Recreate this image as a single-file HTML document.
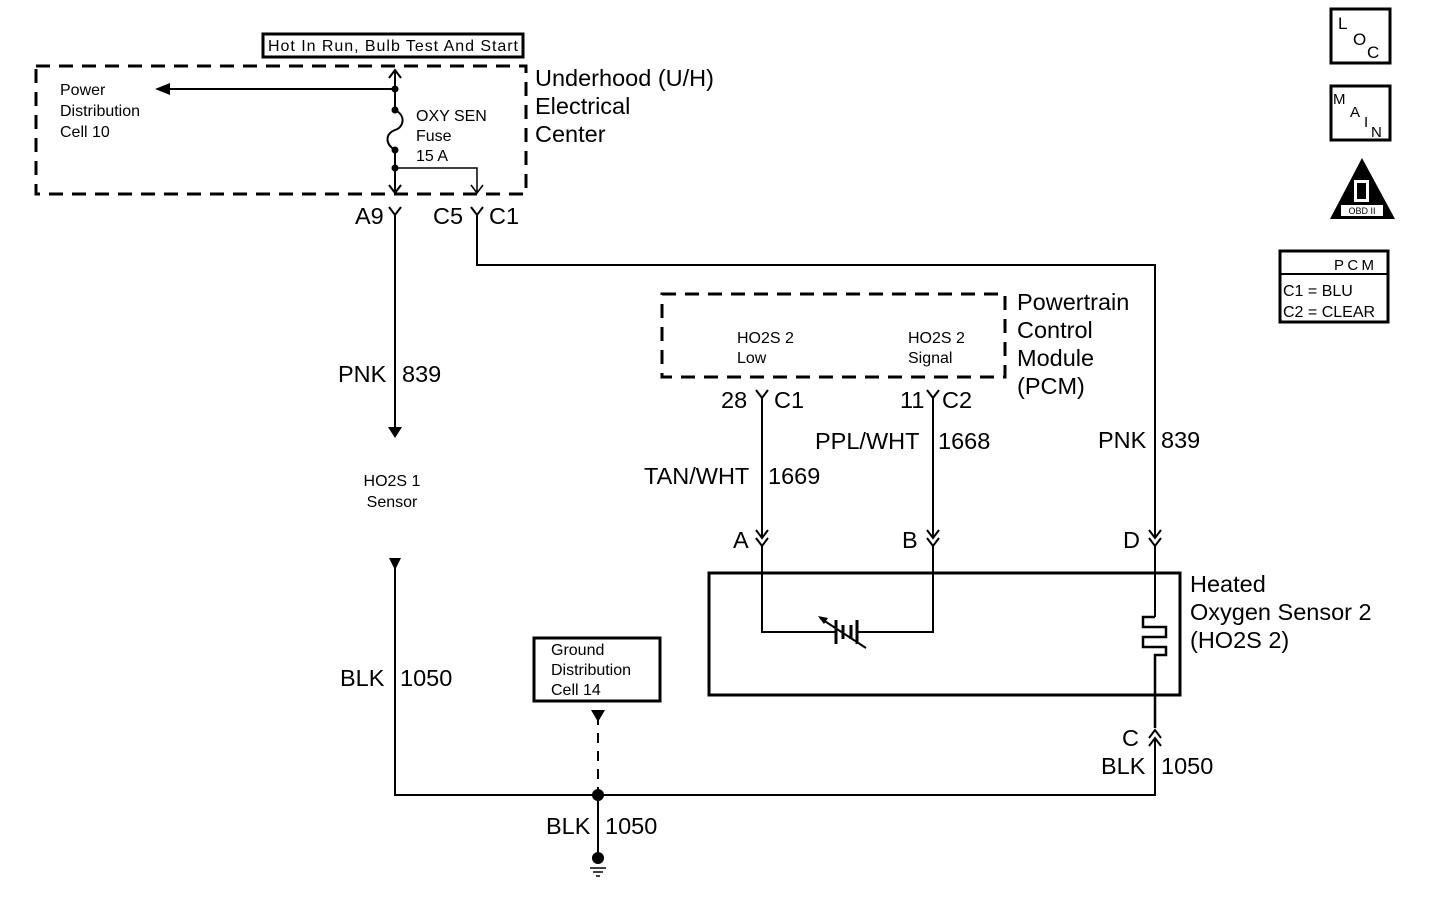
<!DOCTYPE html>
<html><head><style>body{margin:0;background:#fff}svg{display:block}text{font-family:"Liberation Sans",sans-serif;fill:#000}</style></head><body>
<svg width="1440" height="898" viewBox="0 0 1440 898" xmlns="http://www.w3.org/2000/svg">
<g fill="none" stroke="#000" stroke-width="2">
<rect x="36" y="66" width="490" height="128" stroke-dasharray="14,9" stroke-width="3"/>
<rect x="263" y="34" width="260" height="23" stroke-width="3"/>
<rect x="662" y="294" width="343" height="83" stroke-dasharray="14,9" stroke-width="3"/>
<rect x="709" y="573" width="471" height="122" stroke-width="3"/>
<rect x="534" y="638" width="126" height="63" stroke-width="3"/>
<path d="M395 72V110M395 150V193"/>
<path d="M389 78L395 70L401 78M389 185L395 193L401 185"/>
<path d="M395 110c12 6 8 18 0 20c-10 4 -10 14 0 20"/>
<path d="M395 89H160"/>
<path d="M395 168H477V193M471 185L477 193L483 185" stroke-width="1.5"/>
<path d="M389 207L395 215L401 207M395 215V428"/>
<path d="M471 207L477 215L483 207M477 215V265H1155V538"/>
<path d="M756 390L762 398L768 390M762 398V538"/>
<path d="M927 390L933 398L939 390M933 398V538"/>
<path d="M756 530L762 538L768 530M756 538L762 546L768 538M762 546V632H835M857 632H933V546"/>
<path d="M927 530L933 538L939 530M927 538L933 546L939 538"/>
<path d="M1149 530L1155 538L1161 530M1149 538L1155 546L1161 538M1155 546V617"/>
<path d="M1155 617H1143V627H1166V637H1143V647H1166V655H1155V728" stroke-width="2.5"/>
<path d="M1149 738L1155 730L1161 738M1149 746L1155 738L1161 746M1155 738V795H395V565"/>
<path d="M598 715V795" stroke-dasharray="10,8"/>
<path d="M598 795V855"/>
<path d="M590 868H606M593 872H603M596 876H600" stroke-width="1.5"/>
<path d="M836 620V644M843 625V639M851 625V639M857 620V644" stroke-width="3"/>
<path d="M820 618L866 648"/>
</g>
<g fill="#000">
<path d="M155 89L170 83V95Z"/>
<circle cx="395" cy="89" r="3.5"/><circle cx="395" cy="110" r="3.5"/><circle cx="395" cy="150" r="3.5"/><circle cx="395" cy="168" r="3.5"/>
<path d="M388 427H402L395 438Z"/>
<path d="M389 558H401L395 570Z"/>
<path d="M591 710H605L598 722Z"/>
<circle cx="598" cy="795" r="6"/>
<circle cx="598" cy="858" r="6"/>
<path d="M818 616L828 618L824 624Z"/>
</g>
<g font-size="23.5">
<text x="535" y="86">Underhood (U/H)</text>
<text x="535" y="114">Electrical</text>
<text x="535" y="142">Center</text>
<text x="355" y="224">A9</text>
<text x="433" y="224">C5</text>
<text x="489" y="224">C1</text>
<text x="338" y="382">PNK</text><text x="402" y="382">839</text>
<text x="1017" y="310">Powertrain</text>
<text x="1017" y="338">Control</text>
<text x="1017" y="366">Module</text>
<text x="1017" y="394">(PCM)</text>
<text x="721" y="408">28</text><text x="774" y="408">C1</text>
<text x="900" y="408">11</text><text x="942" y="408">C2</text>
<text x="815" y="449">PPL/WHT</text><text x="938" y="449">1668</text>
<text x="644" y="484">TAN/WHT</text><text x="768" y="484">1669</text>
<text x="1098" y="448">PNK</text><text x="1161" y="448">839</text>
<text x="733" y="548">A</text><text x="902" y="548">B</text><text x="1123" y="548">D</text>
<text x="1190" y="592">Heated</text>
<text x="1190" y="620">Oxygen Sensor 2</text>
<text x="1190" y="648">(HO2S 2)</text>
<text x="340" y="686">BLK</text><text x="400" y="686">1050</text>
<text x="1122" y="746">C</text>
<text x="1101" y="774">BLK</text><text x="1161" y="774">1050</text>
<text x="546" y="834">BLK</text><text x="605" y="834">1050</text>
</g>
<g font-size="16">
<text x="268" y="51" textLength="250">Hot In Run, Bulb Test And Start</text>
<text x="60" y="95">Power</text>
<text x="60" y="116">Distribution</text>
<text x="60" y="137">Cell 10</text>
<text x="416" y="121">OXY SEN</text>
<text x="416" y="141">Fuse</text>
<text x="416" y="161">15 A</text>
<text x="737" y="343">HO2S 2</text><text x="737" y="363">Low</text>
<text x="908" y="343">HO2S 2</text><text x="908" y="363">Signal</text>
<text x="392" y="486" text-anchor="middle">HO2S 1</text>
<text x="392" y="507" text-anchor="middle">Sensor</text>
<text x="551" y="655">Ground</text>
<text x="551" y="675">Distribution</text>
<text x="551" y="695">Cell 14</text>
</g>
<g fill="none" stroke="#000" stroke-width="3">
<rect x="1331" y="9" width="59" height="54"/>
<rect x="1331" y="86" width="59" height="54"/>
<rect x="1280" y="251" width="108" height="71"/>
<path d="M1280 274H1388" stroke-width="2"/>
</g>
<g font-size="17">
<text x="1338" y="29">L</text><text x="1353" y="45">O</text><text x="1367" y="58">C</text>
<text x="1333" y="104" font-size="15">M</text><text x="1350" y="117" font-size="15">A</text><text x="1364" y="127" font-size="15">I</text><text x="1371" y="137" font-size="15">N</text>
<text x="1334" y="270" font-size="15" textLength="40">PCM</text>
<text x="1283" y="296" font-size="16">C1 = BLU</text>
<text x="1283" y="317" font-size="16">C2 = CLEAR</text>
</g>
<path d="M1330 219L1362 158L1395 219Z" fill="#000"/>
<rect x="1354" y="180" width="15" height="22" fill="#fff"/>
<rect x="1357" y="183" width="9" height="16" fill="#000"/>
<rect x="1341" y="205" width="42" height="11" fill="#fff"/>
<text x="1362" y="214" font-size="9" text-anchor="middle">OBD II</text>
</svg>
</body></html>
